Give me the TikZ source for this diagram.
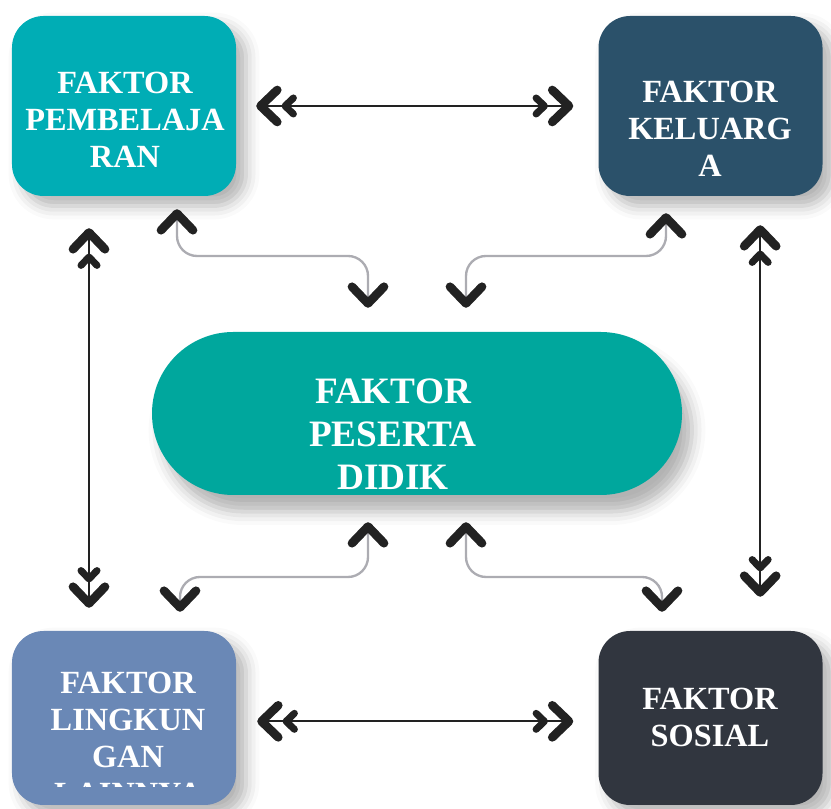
\documentclass[tikz,border=0pt]{standalone}
\usepackage{fontspec}
\setmainfont{Liberation Serif}
\usetikzlibrary{arrows.meta,positioning,shadows.blur}
\definecolor{fkteal}{RGB}{0,173,181}
\definecolor{fknavy}{RGB}{43,81,106}
\definecolor{fkblue}{RGB}{106,136,182}
\definecolor{fkdark}{RGB}{49,54,63}
\definecolor{fkgreen}{RGB}{0,167,157}
\definecolor{fkline}{RGB}{34,34,34}
\definecolor{fkgray}{RGB}{172,172,178}
\newcommand{\factorfont}{\fontsize{27.6pt}{31.6pt}\selectfont\bfseries}
\newcommand{\centerfont}{\fontsize{31.8pt}{36.7pt}\selectfont\bfseries}
\tikzset{
  chev/.tip={Straight Barb[length=5mm,width=9.6mm,line width=2.6mm,round,color=fkline]},
  chevsmall/.tip={Straight Barb[length=2.5mm,width=4.8mm,line width=2.1mm,round,color=fkline]},
  factorbox/.style={rounded corners=9.5mm, minimum width=67.2mm, minimum height=54mm,
    blur shadow={shadow xshift=3mm, shadow yshift=-3mm, shadow blur radius=4mm, shadow opacity=30}},
  factortext/.style={text=white, align=center, font=\factorfont, inner sep=0pt, anchor=north},
  twoway/.style={arrows={chev[] chevsmall[]-chevsmall[] chev[]}, draw=fkline, line width=0.6mm},
  elbow/.style={arrows={chev[]-chev[]}, draw=fkgray, line width=0.7mm, rounded corners=6mm},
}

\begin{document}
\begin{tikzpicture}[x=0.3mm, y=0.3mm]
\useasboundingbox (0,0) rectangle (831,809);
% Kotak faktor
\node[factorbox, fill=fkteal] (pemb) at (124,703) {};
\node[factorbox, fill=fknavy] (kel) at (710.5,703) {};
\node[factorbox, fill=fkblue, minimum height=52.2mm] (ling) at (124,91) {};
\node[factorbox, fill=fkdark, minimum height=52.2mm] (sos) at (710.5,91) {};
\node[rounded corners=24.4mm, minimum width=159mm, minimum height=48.9mm, fill=fkgreen,
      blur shadow={shadow xshift=3mm, shadow yshift=-5mm, shadow blur radius=4mm, shadow opacity=30}]
      (peserta) at (417,395.5) {};

% Teks
\node[factortext] (pembtxt) at (125,737) {FAKTOR\\PEMBELAJA\\RAN};
\node[factortext] (keltxt) at (710,728) {FAKTOR\\KELUARG\\A};
\begin{scope}
\clip (12,22) rectangle (236,178);
\node[factortext] (lingtxt) at (128,137) {FAKTOR\\LINGKUN\\GAN\\LAINNYA};
\end{scope}
\node[factortext] (sostxt) at (710,121) {FAKTOR\\SOSIAL};
\node[factortext, font=\centerfont] (pestxt) at (393,430) {FAKTOR\\PESERTA\\DIDIK};

% Panah dua arah
\draw[twoway, shorten <=6mm, shorten >=7.5mm] (pemb.east) -- (kel.west);
\draw[twoway, shorten <=6.3mm, shorten >=7.5mm] ([yshift=-1mm]ling.east) -- ([yshift=-1mm]sos.west);
\draw[twoway, shorten <=9.6mm, shorten >=6.9mm] ([xshift=-10.5mm]pemb.south) -- ([xshift=-10.5mm]ling.north);
\draw[twoway, shorten <=8.7mm, shorten >=10.2mm] ([xshift=14.9mm]kel.south) -- ([xshift=14.9mm]sos.north);

% Panah ke peserta didik
\coordinate (topbendl) at (272,553);
\coordinate (topbendr) at (566,553);
\coordinate (botbendl) at (272,232);
\coordinate (botbendr) at (566,232);
\draw[elbow, shorten <=3.9mm, shorten >=7.2mm] ([xshift=15.9mm]pemb.south) |- (topbendl) -| ([xshift=-14.7mm]peserta.north);
\draw[elbow, shorten <=5.1mm, shorten >=7.2mm] ([xshift=-13.35mm]kel.south) |- (topbendr) -| ([xshift=14.7mm]peserta.north);
\draw[elbow, shorten <=8.1mm, shorten >=5.7mm] ([xshift=-14.7mm]peserta.south) |- (botbendl) -| ([xshift=16.8mm]ling.north);
\draw[elbow, shorten <=8.1mm, shorten >=5.7mm] ([xshift=14.7mm]peserta.south) |- (botbendr) -| ([xshift=-14.55mm]sos.north);
\end{tikzpicture}
\end{document}
